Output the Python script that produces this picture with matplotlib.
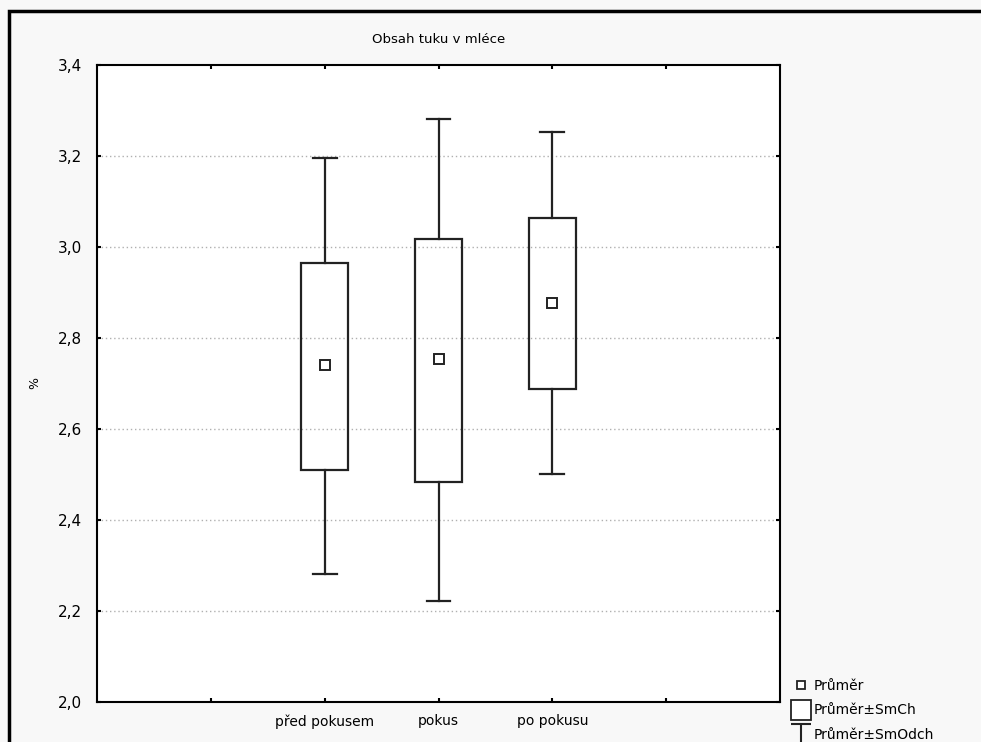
import matplotlib.pyplot as plt
from matplotlib.patches import Rectangle
from matplotlib.lines import Line2D
from matplotlib.path import Path

# hodnoty
skupiny = ['před pokusem', 'pokus', 'po pokusu']
prumer = [2.741, 2.754, 2.877]
smch_dolni = [2.510, 2.484, 2.688]
smch_horni = [2.965, 3.018, 3.064]
smodch_dolni = [2.281, 2.222, 2.501]
smodch_horni = [3.196, 3.281, 3.253]
y_ticks = [2.0, 2.2, 2.4, 2.6, 2.8, 3.0, 3.2, 3.4]

W, H = 981, 742
fig = plt.figure(figsize=(W / 100, H / 100), dpi=100)
fig.patch.set_facecolor('#f8f8f8')

# vnejsi ramecek (pokracuje za okraj obrazku)
fig.patches.append(Rectangle((9 / W, -0.1), 1, 1.1 - 11 / H, transform=fig.transFigure,
                             fill=False, edgecolor='black', linewidth=2.5))

left, right, top, bottom = 97, 780, 65, 702
ax = fig.add_axes([left / W, 1 - bottom / H, (right - left) / W, (bottom - top) / H])
ax.set_facecolor('white')

barva = '#222222'
pozice = [2, 3, 4]
sirka = 0.41
for x, m, bl, bh, wl, wh in zip(pozice, prumer, smch_dolni, smch_horni, smodch_dolni, smodch_horni):
    ax.add_patch(Rectangle((x - sirka / 2, bl), sirka, bh - bl, fill=False,
                           edgecolor=barva, linewidth=1.6, zorder=3))
    ax.plot([x, x], [bh, wh], color=barva, lw=1.6, zorder=3)
    ax.plot([x, x], [wl, bl], color=barva, lw=1.6, zorder=3)
    ax.plot([x - 0.105, x + 0.105], [wh, wh], color=barva, lw=1.6, zorder=3)
    ax.plot([x - 0.105, x + 0.105], [wl, wl], color=barva, lw=1.6, zorder=3)
    ax.plot(x, m, marker='s', ms=6.5, mfc='white', mec=barva, mew=1.4, zorder=4)

ax.set_xlim(0, 6)
ax.set_ylim(2.0, 3.4)
ax.set_yticks(y_ticks)
ax.set_yticklabels([f'{v:.1f}'.replace('.', ',') for v in y_ticks], fontsize=11)
ax.set_xticks([1, 2, 3, 4, 5])
ax.set_xticklabels(['', *skupiny, ''], fontsize=10)
ax.tick_params(direction='in', length=3, width=1.5, top=True, right=True, pad=9)
ax.tick_params(axis='y', pad=11)
for v in y_ticks[1:-1]:
    ax.axhline(v, color='#b0b0b0', lw=1.0, ls=(0, (1, 2)), zorder=1)
for s in ax.spines.values():
    s.set_linewidth(1.5)

ax.set_title('Obsah tuku v mléce', fontsize=9.5, pad=16)
ax.set_ylabel('%', fontsize=9, labelpad=12)

# legenda
i_bar = Path([(-0.5, 0.5), (0.5, 0.5), (0, 0.5), (0, -0.5), (-0.5, -0.5), (0.5, -0.5)],
             [Path.MOVETO, Path.LINETO, Path.MOVETO, Path.LINETO, Path.MOVETO, Path.LINETO])
handles = [
    Line2D([], [], ls='none', marker='s', ms=6, mfc='white', mec=barva, mew=1.3),
    Line2D([], [], ls='none', marker='s', ms=15, mfc='white', mec=barva, mew=1.3),
    Line2D([], [], ls='none', marker=i_bar, ms=14, mfc='none', mec=barva, mew=1.5),
]
fig.legend(handles, ['Průměr', 'Průměr±SmCh', 'Průměr±SmOdch'],
           loc='lower left', bbox_to_anchor=(784 / W, -0.011), frameon=False,
           fontsize=10, handlelength=1.2, handletextpad=0.35, labelspacing=0.75,
           borderpad=0.1)

fig.savefig('out.png', dpi=100, facecolor=fig.get_facecolor())
